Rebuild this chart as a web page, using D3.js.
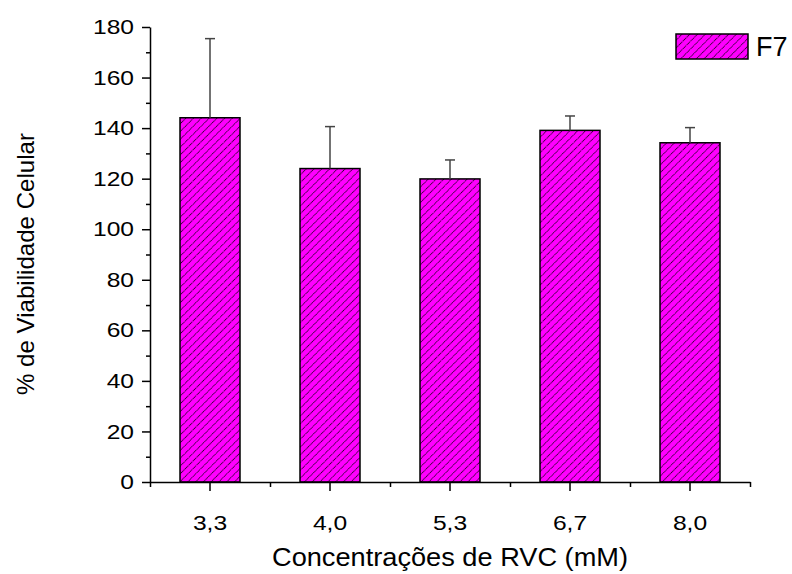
<!DOCTYPE html>
<html>
<head>
<meta charset="utf-8">
<script src="https://cdn.jsdelivr.net/npm/d3@7"></script>
<style>
  body { margin: 0; background: #fff; }
  svg { display: block; font-family: "Liberation Sans", Arial, sans-serif; }
</style>
</head>
<body>
<svg id="chart" width="792" height="574"></svg>
<script>
const categories = ["3,3", "4,0", "5,3", "6,7", "8,0"];
const values = [144.1, 124.0, 119.9, 139.1, 134.2];
const errors = [31.3, 16.6, 7.5, 5.7, 6.0];
const yTicks = [0, 20, 40, 60, 80, 100, 120, 140, 160, 180];
const yMinorTicks = [10, 30, 50, 70, 90, 110, 130, 150, 170];
const seriesName = "F7";

(function () {
const svg = d3.select("#chart");
const mLeft = 150, mRight = 750, mTop = 27, mBottom = 482;
const stretch = 1.2;

const defs = svg.append("defs");
const pat = defs.append("pattern")
  .attr("id", "hatch")
  .attr("patternUnits", "userSpaceOnUse")
  .attr("width", 5.5).attr("height", 5.5)
  .attr("patternTransform", "rotate(45)");
pat.append("rect").attr("width", 5.5).attr("height", 5.5).attr("fill", "#ff00ff");
pat.append("line").attr("x1", 0).attr("y1", 0).attr("x2", 0).attr("y2", 5.5)
  .attr("stroke", "#000").attr("stroke-width", 1.5).attr("stroke-dasharray", "1.1,0.6");

const x = d3.scaleBand().domain(categories).range([mLeft, mRight])
  .paddingInner(0.5).paddingOuter(0.25);
const xMinor = d3.scaleLinear().domain([0, categories.length]).range([mLeft, mRight]);
const y = d3.scaleLinear().domain([0, 180]).range([mBottom, mTop]);

// bars
svg.append("g").selectAll("rect").data(categories).join("rect")
  .attr("x", d => x(d))
  .attr("y", (d, i) => y(values[i]))
  .attr("width", x.bandwidth())
  .attr("height", (d, i) => y(0) - y(values[i]))
  .attr("fill", "url(#hatch)")
  .attr("stroke", "#000")
  .attr("stroke-width", 1.5);

// error bars (upper only)
const eg = svg.append("g").attr("stroke", "#444").attr("stroke-width", 1.5);
categories.forEach((c, i) => {
  const cx = x(c) + x.bandwidth() / 2;
  eg.append("line").attr("x1", cx).attr("x2", cx)
    .attr("y1", y(values[i])).attr("y2", y(values[i] + errors[i]));
  eg.append("line").attr("x1", cx - 5).attr("x2", cx + 5)
    .attr("y1", y(values[i] + errors[i])).attr("y2", y(values[i] + errors[i]));
});

// y axis
const yg = svg.append("g").attr("transform", `translate(${mLeft},0)`)
  .call(d3.axisLeft(y).tickValues(yTicks).tickSize(8).tickPadding(8).tickSizeOuter(0));
yg.selectAll(".tick text").attr("x", -16 / stretch).attr("transform", `scale(${stretch},1)`);
svg.append("g").attr("transform", `translate(${mLeft},0)`)
  .call(d3.axisLeft(y).tickValues(yMinorTicks).tickSize(4).tickFormat("").tickSizeOuter(0))
  .select(".domain").remove();

// x axis
const xg = svg.append("g").attr("transform", `translate(0,${mBottom})`)
  .call(d3.axisBottom(x).tickSize(9).tickPadding(24).tickSizeOuter(0));
xg.selectAll(".tick text").attr("transform", `scale(${stretch},1)`);
svg.append("g").attr("transform", `translate(0,${mBottom})`)
  .call(d3.axisBottom(xMinor).tickValues(d3.range(0, categories.length + 1)).tickSize(5).tickFormat("").tickSizeOuter(0))
  .select(".domain").remove();

svg.selectAll(".tick line").attr("stroke", "#000").attr("stroke-width", 1.5);
svg.selectAll(".domain").attr("stroke", "#000").attr("stroke-width", 1.5);
svg.selectAll(".tick text").attr("fill", "#000").style("font-size", "20.5px")
  .style("font-family", "'Liberation Sans', Arial, sans-serif");

// axis titles
svg.append("text").attr("x", 450).attr("y", 566)
  .attr("text-anchor", "middle").style("font-size", "26px")
  .attr("textLength", 356).attr("lengthAdjust", "spacingAndGlyphs")
  .text("Concentrações de RVC (mM)");
svg.append("text").attr("transform", "translate(34,264) rotate(-90)")
  .attr("text-anchor", "middle").style("font-size", "24.5px")
  .attr("textLength", 262).attr("lengthAdjust", "spacingAndGlyphs")
  .text("% de Viabilidade Celular");

// legend
svg.append("rect").attr("x", 676).attr("y", 34).attr("width", 72).attr("height", 25)
  .attr("fill", "url(#hatch)").attr("stroke", "#000").attr("stroke-width", 1.5);
svg.append("text").attr("x", 756).attr("y", 56).style("font-size", "27px").text(seriesName);
})();
</script>
</body>
</html>
